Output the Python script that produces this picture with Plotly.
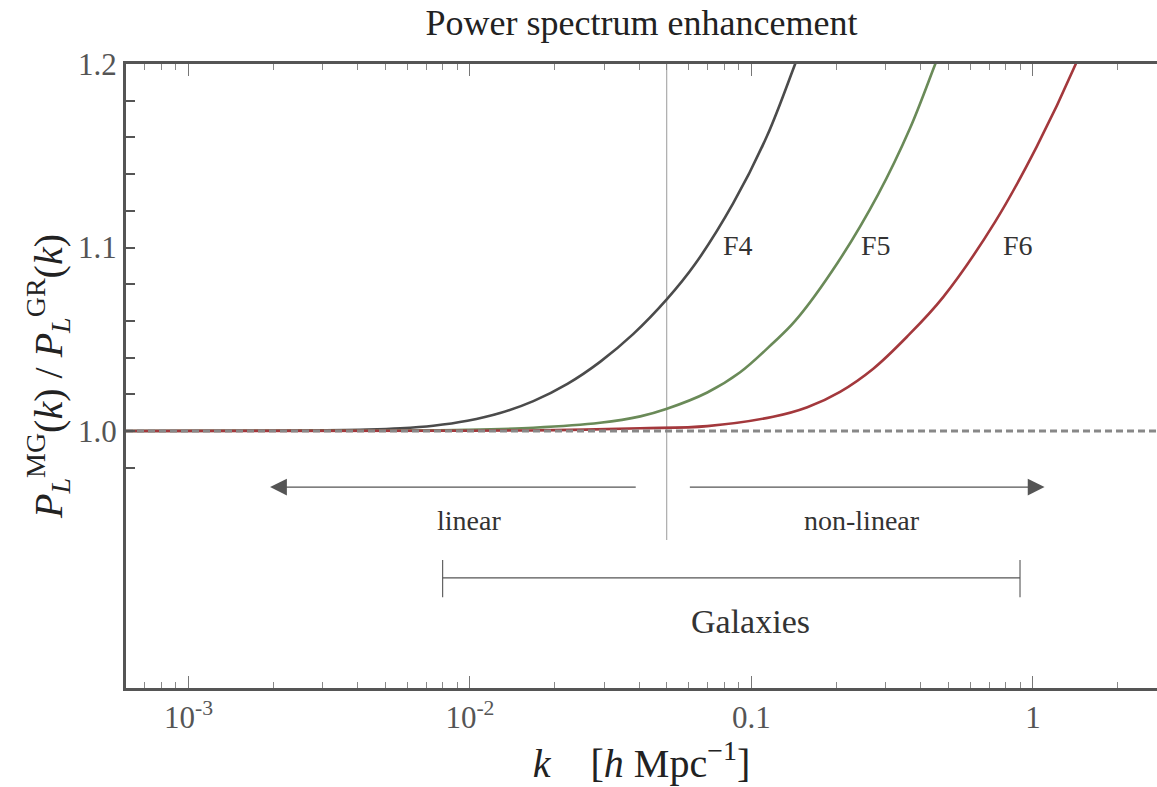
import math
import plotly.graph_objects as go

# ---- data ----
k_f4 = [0.0006, 0.002, 0.003, 0.00433, 0.00566, 0.00741, 0.0098, 0.0128, 0.0168, 0.0222,
        0.029, 0.038, 0.0502, 0.0631, 0.0861, 0.1138, 0.143, 0.16]
r_f4 = [1.0, 1.0002, 1.0004, 1.0008, 1.0015, 1.0029, 1.0056, 1.0098, 1.0163, 1.0257,
        1.0377, 1.0528, 1.072, 1.091, 1.124, 1.161, 1.2, 1.22]

k_f5 = [0.0006, 0.005, 0.0098, 0.0168, 0.029, 0.0403, 0.0498, 0.0697, 0.0912, 0.1194,
        0.143, 0.203, 0.282, 0.366, 0.450, 0.50]
r_f5 = [1.0, 1.0003, 1.0007, 1.0018, 1.0045, 1.0080, 1.012, 1.021, 1.032, 1.048,
        1.060, 1.092, 1.129, 1.165, 1.2, 1.218]

k_f6 = [0.0006, 0.01, 0.02, 0.0403, 0.0697, 0.1194, 0.158, 0.2065, 0.271, 0.357,
        0.48, 0.734, 1.032, 1.42, 1.6]
r_f6 = [1.0, 1.0002, 1.0005, 1.0015, 1.0027, 1.0078, 1.013, 1.0214, 1.034, 1.0514,
        1.073, 1.114, 1.155, 1.2, 1.22]

series_names = ["F4", "F5", "F6"]
series_colors = ["#4b4b4b", "#6a8a58", "#a3383c"]
label_k = [0.0897, 0.277, 0.886]
label_r = [1.101, 1.101, 1.101]

k_range = [6.0e-4, 2.76]
y_range = [0.86, 1.2]
k_split = 0.05
split_r = [0.9406, 1.2]

arrow_left_k = [0.0393, 0.00195]
arrow_right_k = [0.0597, 1.10]
arrow_r = 0.9695
linear_pos = (0.00996, 0.951)
nonlinear_pos = (0.247, 0.951)

gal_k = [0.008, 0.9]
gal_r = 0.92
gal_cap = [0.9095, 0.9297]
gal_label = (0.099, 0.896)

x_major = [1e-3, 1e-2, 0.1, 1]
x_major_text = ["10<sup>-3</sup>", "10<sup>-2</sup>", "0.1", "1"]
x_minor = [m * 10 ** e for e in range(-4, 1) for m in range(2, 10)]
y_major = [1.0, 1.1, 1.2]
y_major_text = ["1.0", "1.1", "1.2"]
y_minor = [0.98, 1.02, 1.04, 1.06, 1.08, 1.12, 1.14, 1.16, 1.18]

FONT = "Liberation Serif"

fig = go.Figure()

# vertical split line
fig.add_trace(go.Scatter(x=[k_split, k_split], y=split_r, mode="lines",
                         line=dict(color="#ababab", width=1.2), hoverinfo="skip"))

for kk, rr, name, col in zip([k_f4, k_f5, k_f6], [r_f4, r_f5, r_f6], series_names, series_colors):
    fig.add_trace(go.Scatter(x=kk, y=rr, mode="lines", name=name,
                             line=dict(color=col, width=2.6, shape="spline", smoothing=1.0)))

# GR reference line (dashed)
fig.add_trace(go.Scatter(x=k_range, y=[1.0, 1.0], mode="lines",
                         line=dict(color="#888888", width=3, dash="7px,4px"), hoverinfo="skip"))

# galaxies bar
fig.add_trace(go.Scatter(
    x=[gal_k[0], gal_k[1], None, gal_k[0], gal_k[0], None, gal_k[1], gal_k[1]],
    y=[gal_r, gal_r, None, gal_cap[0], gal_cap[1], None, gal_cap[0], gal_cap[1]],
    mode="lines", line=dict(color="#555555", width=1.1), hoverinfo="skip"))

annotations = []
for name, kx, ry in zip(series_names, label_k, label_r):
    annotations.append(dict(x=math.log10(kx), y=ry, xref="x", yref="y", text=name,
                            showarrow=False, font=dict(family=FONT, size=28, color="#333333")))

for ks in (arrow_left_k, arrow_right_k):
    annotations.append(dict(x=math.log10(ks[1]), y=arrow_r, ax=math.log10(ks[0]), ay=arrow_r,
                            xref="x", yref="y", axref="x", ayref="y", text="",
                            showarrow=True, arrowhead=2, arrowsize=2.8, arrowwidth=1.2,
                            arrowcolor="#555555"))

annotations.append(dict(x=math.log10(linear_pos[0]), y=linear_pos[1], xref="x", yref="y",
                        text="linear", showarrow=False,
                        font=dict(family=FONT, size=28, color="#333333")))
annotations.append(dict(x=math.log10(nonlinear_pos[0]), y=nonlinear_pos[1], xref="x", yref="y",
                        text="non-linear", showarrow=False,
                        font=dict(family=FONT, size=28, color="#333333")))
annotations.append(dict(x=math.log10(gal_label[0]), y=gal_label[1], xref="x", yref="y",
                        text="Galaxies", showarrow=False,
                        font=dict(family=FONT, size=34, color="#333333")))

fig.update_layout(
    width=1157, height=787,
    margin=dict(l=126, r=0, t=64, b=99),
    paper_bgcolor="white", plot_bgcolor="white",
    showlegend=False,
    title=dict(text="Power spectrum enhancement", x=0.5, xref="paper",
               y=1 - 22 / 787, yref="container", yanchor="middle", xanchor="center",
               font=dict(family=FONT, size=36, color="#222222")),
    annotations=annotations,
    font=dict(family=FONT),
)

fig.update_xaxes(
    type="log", range=[math.log10(k_range[0]), math.log10(k_range[1])],
    showgrid=False, zeroline=False,
    showline=True, linecolor="#555555", linewidth=3, mirror="allticks",
    ticks="inside", ticklen=12, tickwidth=1, tickcolor="#777777",
    tickvals=x_major, ticktext=x_major_text,
    tickfont=dict(family=FONT, size=31, color="#555555"),
    minor=dict(tickvals=x_minor, ticks="inside", ticklen=6, tickwidth=1, tickcolor="#888888",
               showgrid=False),
    title=dict(text="<i>k</i>    [<i>h</i> Mpc<sup>−1</sup>]", standoff=14,
               font=dict(family=FONT, size=40, color="#222222")),
)

fig.update_yaxes(
    range=y_range, showgrid=False, zeroline=False,
    showline=True, linecolor="#555555", linewidth=3,
    ticks="inside", ticklen=9, tickwidth=1.5, tickcolor="#555555",
    tickvals=y_major, ticktext=y_major_text,
    tickfont=dict(family=FONT, size=31, color="#555555"),
    minor=dict(tickvals=y_minor, ticks="inside", ticklen=9, tickwidth=1.5, tickcolor="#555555",
               showgrid=False),
    title=dict(text="<i>P</i><sub><i>L</i></sub><sup>MG</sup>(<i>k</i>) / <i>P</i><sub><i>L</i></sub><sup>GR</sup>(<i>k</i>)",
               standoff=4, font=dict(family=FONT, size=40, color="#222222")),
)

fig.write_html("out.html")
